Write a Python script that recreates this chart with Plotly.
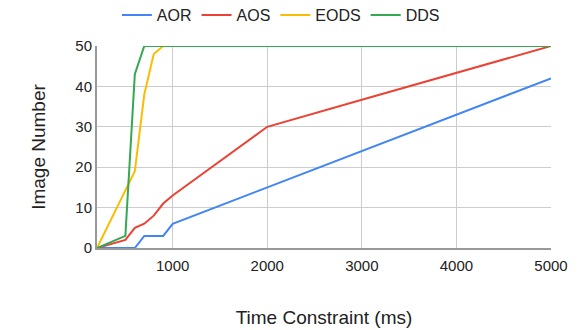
import plotly.graph_objects as go

time_ms = [200, 500, 600, 700, 800, 900, 1000, 2000, 3000, 4000, 5000]
aor = [0, 0, 0, 3, 3, 3, 6, 15, 24, 33, 42]
aos = [0, 2, 5, 6, 8, 11, 13, 30, 36.7, 43.3, 50]
eods = [0, None, 19, 38, 48, 50, 50, 50, 50, 50, 50]
dds = [0, 3, 43, 50, 50, 50, 50, 50, 50, 50, 50]

series = [("AOR", aor, "#4285F4"), ("AOS", aos, "#EA4335"),
          ("EODS", eods, "#FBBC04"), ("DDS", dds, "#34A853")]

fig = go.Figure()
for name, vals, col in series:
    xs = [x for x, v in zip(time_ms, vals) if v is not None]
    ys = [v for v in vals if v is not None]
    fig.add_trace(go.Scatter(x=xs, y=ys, name=name, mode="lines",
                             line=dict(color=col, width=2)))

fig.update_layout(
    width=579, height=330,
    margin=dict(l=97, r=28, t=46, b=82, autoexpand=False),
    plot_bgcolor="white", paper_bgcolor="white",
    font=dict(family="Liberation Sans, Arial, sans-serif", color="#222222", size=15),
    legend=dict(orientation="h", x=0.405, xanchor="center", y=1.153, yanchor="middle",
                itemwidth=30, font=dict(size=16)),
    showlegend=True,
)
fig.update_xaxes(range=[200, 5000], tickvals=[1000, 2000, 3000, 4000, 5000],
                 showgrid=True, gridcolor="#cccccc", gridwidth=1,
                 showline=True, linecolor="#999999", linewidth=2,
                 zeroline=False, ticks="", tickfont=dict(size=15), ticklabelstandoff=3,
                 title=dict(text="Time Constraint (ms)", font=dict(size=19), standoff=38))
fig.update_yaxes(range=[0, 50], tickvals=[0, 10, 20, 30, 40, 50],
                 showgrid=True, gridcolor="#cccccc", gridwidth=1,
                 showline=True, linecolor="#999999", linewidth=2,
                 zeroline=False, ticks="", tickfont=dict(size=15),
                 title=dict(text="Image Number", font=dict(size=19), standoff=25))

fig.write_html("out.html")
